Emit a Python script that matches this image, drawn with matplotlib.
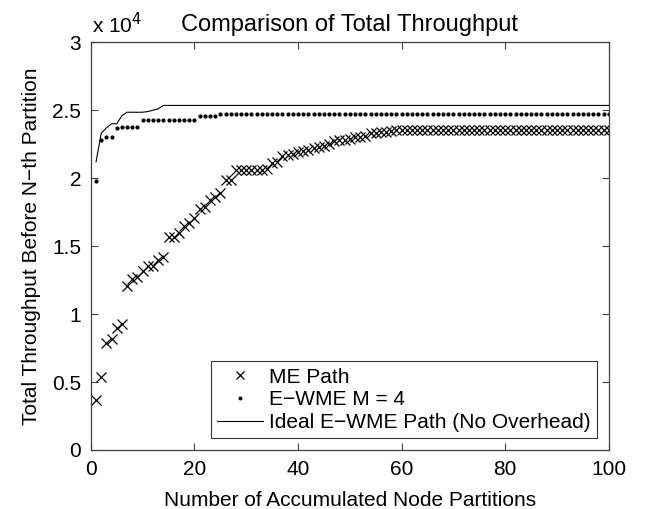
import matplotlib.pyplot as plt
from matplotlib.ticker import FuncFormatter
import numpy as np

plt.rcParams['font.family'] = ['Liberation Sans', 'DejaVu Sans']

# partition index
n = np.arange(1, 101)

# ME Path (x 10^4)
me_head = [0.37, 0.54, 0.79, 0.82, 0.90, 0.93, 1.21, 1.26, 1.27, 1.32,
           1.35, 1.35, 1.40, 1.42, 1.57, 1.57, 1.60, 1.65, 1.67, 1.71,
           1.77, 1.79, 1.84, 1.86, 1.89, 1.99, 1.99, 2.06, 2.06, 2.06,
           2.06, 2.06, 2.06, 2.07, 2.11, 2.12, 2.16, 2.17, 2.18, 2.19,
           2.20, 2.21, 2.22, 2.23, 2.24, 2.25, 2.27, 2.28, 2.28, 2.29,
           2.30, 2.30, 2.31, 2.33, 2.33, 2.34, 2.34, 2.35]
me_path = me_head + [2.355] * (100 - len(me_head))

# E-WME M = 4 (x 10^4)
ewme_head = [1.98, 2.28, 2.30, 2.30, 2.37, 2.38, 2.38, 2.38, 2.38,
             2.43, 2.43, 2.43, 2.43, 2.43, 2.43, 2.43, 2.43, 2.43, 2.43, 2.43,
             2.46, 2.46, 2.46, 2.46]
ewme = ewme_head + [2.47] * (100 - len(ewme_head))

# Ideal E-WME path (x 10^4)
ideal_head = [2.12, 2.33, 2.37, 2.40, 2.40, 2.46, 2.485, 2.485, 2.485, 2.485,
              2.49, 2.50, 2.51]
ideal = ideal_head + [2.535] * (100 - len(ideal_head))

me_path = np.array(me_path) * 1e4
ewme = np.array(ewme) * 1e4
ideal = np.array(ideal) * 1e4

fig = plt.figure(figsize=(6.49, 5.09), dpi=100)
ax = fig.add_axes([0.140, 0.116, 0.798, 0.801])

ax.plot(n, me_path, linestyle='none', marker='x', markersize=6.5,
        markeredgewidth=0.9, color='black', label='ME Path')
ax.plot(n, ewme, linestyle='none', marker='.', markersize=4,
        color='black', label='E\u2212WME M = 4')
ax.plot(n, ideal, linestyle='-', linewidth=0.8, color='black',
        label='Ideal E\u2212WME Path (No Overhead)')

ax.set_xlim(0, 100)
ax.set_ylim(0, 30000)
ax.set_xticks(np.arange(0, 101, 20))
ax.set_yticks(np.arange(0, 30001, 5000))
ax.yaxis.set_major_formatter(FuncFormatter(lambda v, p: f'{v / 1e4:g}'))
ax.tick_params(direction='in', top=True, right=True, labelsize=15,
               length=5, width=0.8, color='#404040')
ax.tick_params(axis='y', pad=7)
ax.tick_params(axis='x', pad=7)
for s in ax.spines.values():
    s.set_color('#404040')
    s.set_linewidth(0.9)

ax.text(0.003, 1.012, 'x 10$^4$', transform=ax.transAxes, fontsize=15,
        ha='left', va='bottom')
ax.set_title('Comparison of Total Throughput', fontsize=17, pad=8)
ax.set_xlabel('Number of Accumulated Node Partitions', fontsize=15, labelpad=9)
ax.set_ylabel('Total Throughput Before N\u2212th Partition', fontsize=15, labelpad=8)

leg = ax.legend(loc='lower right', fontsize=15, frameon=True, fancybox=False,
                edgecolor='black', borderaxespad=0.55, handlelength=2.2,
                handletextpad=0.3, labelspacing=0.18, borderpad=0.3,
                markerscale=0.9)
leg.get_frame().set_linewidth(0.8)

plt.savefig('out.png', dpi=100)
